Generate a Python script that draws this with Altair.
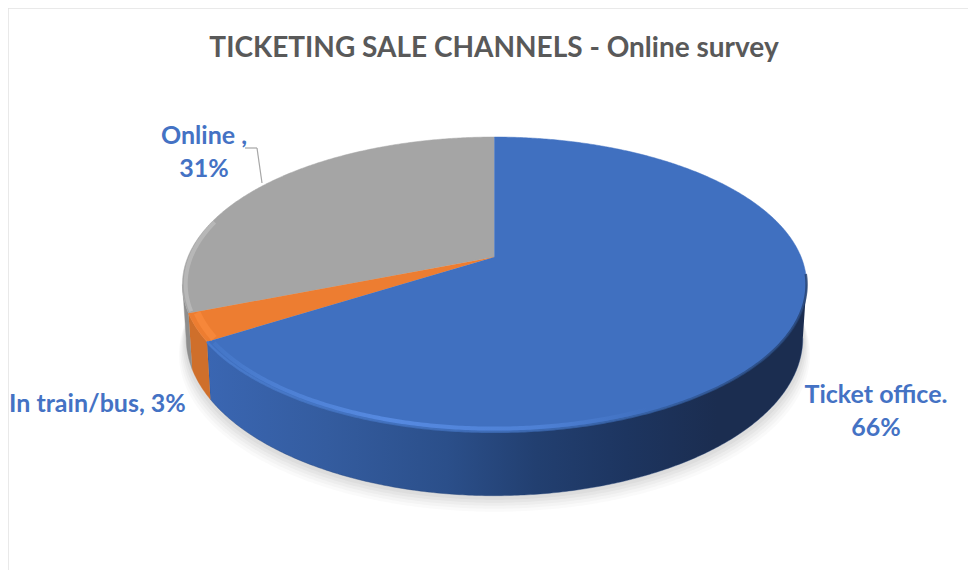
import math
import altair as alt
import pandas as pd

# Data
categories = ["Ticket office", "In train/bus", "Online"]
shares = [66, 3, 31]
label_text = ["Ticket office.\n66%", "In train/bus, 3%", "Online ,\n31%"]
top_colors = ["#4070c0", "#ed7d31", "#a5a5a5"]

W, H = 960, 562
A, B, K = 306.6, 142.3, 0.186      # perspective of the disc
APEX_X, APEX_Y = 486.5, 249
DEPTH = 52 / B
RIGHT_EDGE = math.degrees(math.acos(-K))
LEFT_EDGE = 360 - RIGHT_EDGE

x_scale = alt.Scale(domain=[-APEX_X / A, (W - APEX_X) / A], nice=False, zero=False)
y_scale = alt.Scale(domain=[-(H - APEX_Y) / B, APEX_Y / B], nice=False, zero=False)


def project(deg, r=1.0, depth=0.0, shrink=1.0, dy=0.0):
    t = math.radians(deg)
    X, Y = r * math.sin(t), r * math.cos(t)
    w = 1 + K * Y
    return X / w * shrink, Y / w - depth / w - dy


def arc_points(a, b, **kw):
    n = max(2, int(abs(b - a) * 2))
    return [project(a + (b - a) * i / n, **kw) for i in range(n + 1)]


def frame(pts):
    return pd.DataFrame({"x": [p[0] for p in pts], "y": [p[1] for p in pts], "i": range(len(pts))})


def poly(pts, **mark):
    return alt.Chart(frame(pts)).mark_line(interpolate="linear", **mark).encode(
        x=alt.X("x:Q", scale=x_scale, axis=None),
        y=alt.Y("y:Q", scale=y_scale, axis=None),
        order="i:Q",
    )


def grad(stops):
    return alt.Gradient(
        gradient="linear", x1=0, y1=0, x2=1, y2=0,
        stops=[alt.GradientStop(offset=o, color=c) for o, c in stops],
    )


# slice boundaries, clockwise from 12 o'clock
edges = [0.0]
for s in shares:
    edges.append(edges[-1] + s * 3.6)

layers = []

# soft shadow under the disc
for dy, op in [(16, 0.04), (13, 0.05), (10, 0.06), (7, 0.07), (4, 0.08)]:
    pts = arc_points(RIGHT_EDGE - 30, LEFT_EDGE + 30, depth=DEPTH, shrink=0.988 + dy / 700, dy=dy / B)
    layers.append(poly(pts, fill="#808080", fillOpacity=op, strokeOpacity=0))

# wall of the disc
wall_fills = [
    grad([(0, "#3a66b2"), (0.2, "#345c9f"), (0.4, "#2b4f8a"), (0.55, "#223f70"),
          (0.7, "#1d3560"), (0.85, "#1b2d50"), (1, "#1b2d50")]),
    "#cf6f2b",
    "#8e8e8e",
]
wall_spans = [(RIGHT_EDGE, edges[1]), (edges[1], edges[2]), (edges[2], LEFT_EDGE)]
for (a, b), fill in zip(wall_spans, wall_fills):
    pts = arc_points(a, b) + arc_points(b, a, depth=DEPTH, shrink=0.988)
    layers.append(poly(pts, fill=fill, stroke=fill if isinstance(fill, str) else "#26457a", strokeWidth=0.4))

# top face wedges, drawn from the grey slice to the blue one
for i in [2, 1, 0]:
    pts = [(0.0, 0.0)] + arc_points(edges[i], edges[i + 1])
    layers.append(poly(pts, fill=top_colors[i], stroke=top_colors[i], strokeWidth=0.5))

# bevel along the rim (gradient runs left to right)
layers.append(poly(arc_points(RIGHT_EDGE - 4, edges[1]), strokeWidth=2.5, strokeOpacity=0.8,
                   stroke=grad([(0, "#4a7dd0"), (0.5, "#3c6ab4"), (0.75, "#325c9e"), (1, "#24406f")])))
layers.append(poly(arc_points(155, edges[1] - 1, r=0.985), strokeWidth=4, strokeOpacity=0.85,
                   stroke=grad([(0, "#4577c8"), (0.15, "#4f82d6"), (0.4, "#5a8ee6"),
                                (0.75, "#5083d8"), (1, "#4070c0")])))
layers.append(poly(arc_points(edges[1] + 0.4, edges[2] - 0.4, r=0.975), strokeWidth=7, stroke="#f6873a"))
layers.append(poly(arc_points(edges[2] + 0.5, 285, r=0.99), strokeWidth=4, stroke="#bcbcbc", strokeOpacity=0.8))


def label(text, px, py, align="center"):
    return alt.Chart(pd.DataFrame({"t": [text]})).mark_text(
        font="Lato", fontSize=25, fontWeight="bold", color="#4472c4",
        align=align, baseline="middle", lineBreak="\n", lineHeight=33,
    ).encode(text="t:N", x=alt.value(px), y=alt.value(py))


layers.append(label(label_text[0], 868, 387))
layers.append(label(label_text[1], 1, 396, "left"))
layers.append(label(label_text[2], 196, 128))

# leader line of the Online label
one = pd.DataFrame({"a": [0]})
layers.append(alt.Chart(one).mark_rule(color="#a6a6a6", strokeWidth=1.2).encode(
    x=alt.value(237), x2=alt.value(249), y=alt.value(140), y2=alt.value(140)))
layers.append(alt.Chart(one).mark_rule(color="#a6a6a6", strokeWidth=1.2).encode(
    x=alt.value(249), x2=alt.value(254), y=alt.value(140), y2=alt.value(175)))

# chart frame
layers.append(alt.Chart(one).mark_rule(color="#e2e2e2", strokeWidth=1.5).encode(
    x=alt.value(0), x2=alt.value(W), y=alt.value(0), y2=alt.value(0)))
layers.append(alt.Chart(one).mark_rule(color="#e2e2e2", strokeWidth=1.5).encode(
    x=alt.value(0), x2=alt.value(0), y=alt.value(0), y2=alt.value(H)))

chart = alt.layer(*layers).properties(
    width=W,
    height=H,
    padding=0,
    autosize=alt.AutoSizeParams(type="none"),
    title=alt.TitleParams(
        "TICKETING SALE CHANNELS - Online survey",
        font="Lato", fontSize=28, fontWeight="bold", color="#595959",
        anchor="middle", dx=6, dy=60,
    ),
).configure_view(stroke=None)

chart.save("out.html", embed_options={"renderer": "svg", "actions": False})
